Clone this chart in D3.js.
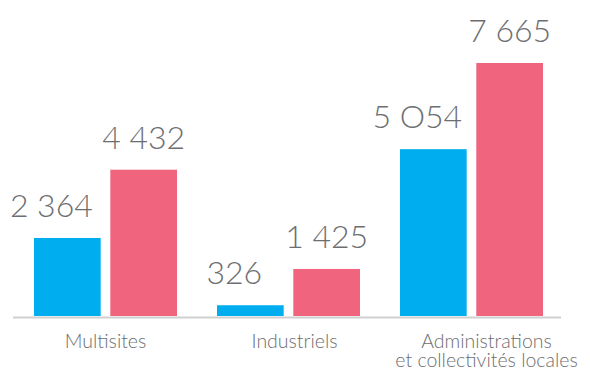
<!DOCTYPE html>
<html><head><meta charset="utf-8">
<script src="https://cdn.jsdelivr.net/npm/d3@7"></script>
<style>
html,body{margin:0;padding:0;background:#fff;}
text{font-family:"Lato","Open Sans",sans-serif;}
</style></head>
<body><svg id="c" width="590" height="372"></svg>
<script>
const categories = [["Multisites"], ["Industriels"], ["Administrations", "et collectivités locales"]];
const seriesBlue = [2364, 326, 5054];
const seriesPink = [4432, 1425, 7665];
const valueLabelsBlue = ["2 364", "326", "5 O54"];
const valueLabelsPink = ["4 432", "1 425", "7 665"];

const svg = d3.select("#c");
const baseY = 316, topY = 63;
const x = d3.scaleBand().domain(d3.range(categories.length)).range([13, 564]).paddingInner(0.2186).paddingOuter(0.1148);
const x1 = d3.scaleBand().domain([0, 1]).range([0, x.bandwidth()]).paddingInner(0.126);
const y = d3.scaleLinear().domain([0, d3.max(seriesPink)]).range([baseY, topY]);

const series = [
  {vals: seriesBlue, labels: valueLabelsBlue, color: "#00AEEF", dx: -16},
  {vals: seriesPink, labels: valueLabelsPink, color: "#F0647E", dx: 0}
];

series.forEach((s, si) => {
  const g = svg.append("g");
  g.selectAll("rect").data(s.vals).join("rect")
    .attr("x", (d, i) => x(i) + x1(si))
    .attr("width", x1.bandwidth())
    .attr("y", d => y(d))
    .attr("height", d => baseY - y(d))
    .attr("fill", s.color);
  g.selectAll("text").data(s.vals).join("text")
    .attr("x", (d, i) => x(i) + x1(si) + x1.bandwidth() / 2 + s.dx)
    .attr("y", d => y(d) - 21)
    .attr("text-anchor", "middle")
    .attr("font-size", 32)
    .attr("font-weight", 300)
    .attr("fill", "#6d6e71")
    .text((d, i) => s.labels[i]);
});

svg.append("line").attr("x1", 13).attr("x2", 561).attr("y1", 317.5).attr("y2", 317.5)
  .attr("stroke", "#d0d0d0").attr("stroke-width", 2);

const cat = svg.append("g");
categories.forEach((lines, i) => {
  const cx = x(i) + x.bandwidth() / 2 + (lines.length > 1 ? 15 : 6 * i);
  const t = cat.append("text")
    .attr("x", cx)
    .attr("y", 348)
    .attr("text-anchor", "middle")
    .attr("font-size", 19.5)
    .attr("font-weight", 300)
    .attr("fill", "#6d6e71");
  lines.forEach((l, j) => t.append("tspan").attr("x", cx).attr("dy", j ? 18.5 : 0).text(l));
});
</script></body></html>
